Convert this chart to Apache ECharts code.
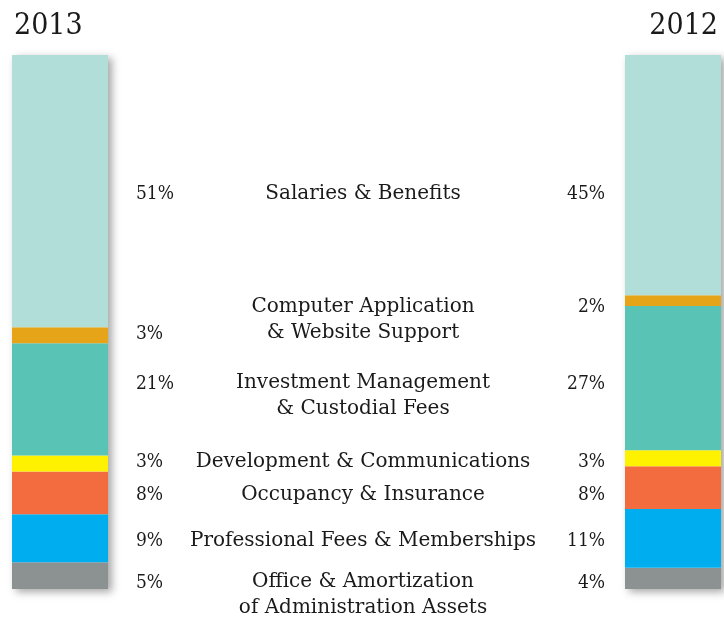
<!DOCTYPE html>
<html>
<head>
<meta charset="utf-8">
<script src="https://cdn.jsdelivr.net/npm/echarts@6/dist/echarts.min.js"></script>
<style>
  html, body { margin: 0; padding: 0; background: #ffffff; }
  #chart { width: 724px; height: 617px; }
</style>
</head>
<body>
<div id="chart"></div>
<script>
// =====================================
// Data
// =====================================

const categories = [
    "Salaries & Benefits",
    "Computer Application\n& Website Support",
    "Investment Management\n& Custodial Fees",
    "Development & Communications",
    "Occupancy & Insurance",
    "Professional Fees & Memberships",
    "Office & Amortization\nof Administration Assets"
];

const years = ["2013", "2012"];

const values2013 = [51, 3, 21, 3, 8, 9, 5];
const values2012 = [45, 2, 27, 3, 8, 11, 4];

const colors = [
    "#b1ded8",
    "#e6a518",
    "#59c3b6",
    "#fff200",
    "#f26c3f",
    "#00aeef",
    "#8c9191"
];

// label rows (layout only): name centre, left %, right %
const rowName = [194, 320, 396, 462, 495, 541, 595];
const rowLeft = [194, 334, 384, 462, 495, 541, 583];
const rowRight = [194, 307, 384, 462, 495, 541, 583];

const FONT_NAME = "'DejaVu Serif', serif";
const FONT_NUM = "'DejaVu Serif Condensed', 'DejaVu Serif', serif";

// =====================================
// Series
// =====================================

function barSeries(values, gridIndex) {
    const list = [{
        type: "bar",
        xAxisIndex: gridIndex,
        yAxisIndex: gridIndex,
        data: [100],
        barWidth: 96,
        barGap: "-100%",
        silent: true,
        z: 1,
        itemStyle: {
            color: "#ffffff",
            shadowColor: "rgba(0,0,0,0.35)",
            shadowBlur: 8,
            shadowOffsetX: 4,
            shadowOffsetY: 3
        }
    }];

    // stack from the bottom up
    for (let i = values.length - 1; i >= 0; i--) {
        list.push({
            type: "bar",
            name: categories[i],
            xAxisIndex: gridIndex,
            yAxisIndex: gridIndex,
            stack: "s" + gridIndex,
            data: [values[i]],
            barWidth: 96,
            barGap: "-100%",
            z: 2,
            itemStyle: {
                color: colors[i]
            }
        });
    }
    return list;
}

// =====================================
// Labels
// =====================================

function textLabels() {
    const items = [];
    const base = {
        fontSize: 19,
        fill: "#1a1a1a",
        lineHeight: 26,
        verticalAlign: "middle"
    };

    categories.forEach((name, i) => {
        items.push({
            type: "text",
            x: 363,
            y: rowName[i],
            style: Object.assign({}, base, {
                text: name,
                fontFamily: FONT_NAME,
                fontSize: 20,
                align: "center"
            })
        });
        items.push({
            type: "text",
            x: 136,
            y: rowLeft[i],
            style: Object.assign({}, base, {
                text: values2013[i] + "%",
                fontFamily: FONT_NUM,
                align: "left"
            })
        });
        items.push({
            type: "text",
            x: 605,
            y: rowRight[i],
            style: Object.assign({}, base, {
                text: values2012[i] + "%",
                fontFamily: FONT_NUM,
                align: "right"
            })
        });
    });
    return items;
}

// =====================================
// Chart
// =====================================

const chart = echarts.init(document.getElementById("chart"));

const axisX = idx => ({
    type: "category",
    gridIndex: idx,
    data: [years[idx]],
    show: false
});

const axisY = idx => ({
    type: "value",
    gridIndex: idx,
    min: 0,
    max: 100,
    show: false
});

const yearStyle = {
    fontFamily: FONT_NUM,
    fontSize: 30,
    fontWeight: "normal",
    color: "#1a1a1a"
};

chart.setOption({
    animation: false,
    title: [{
        text: years[0],
        left: 9,
        top: 6,
        textStyle: yearStyle
    }, {
        text: years[1],
        right: 1,
        top: 6,
        textStyle: yearStyle
    }],
    grid: [
        { left: 12, top: 55, width: 96, height: 534 },
        { left: 625, top: 55, width: 96, height: 534 }
    ],
    xAxis: [axisX(0), axisX(1)],
    yAxis: [axisY(0), axisY(1)],
    series: barSeries(values2013, 0).concat(barSeries(values2012, 1)),
    graphic: textLabels()
});
</script>
</body>
</html>
